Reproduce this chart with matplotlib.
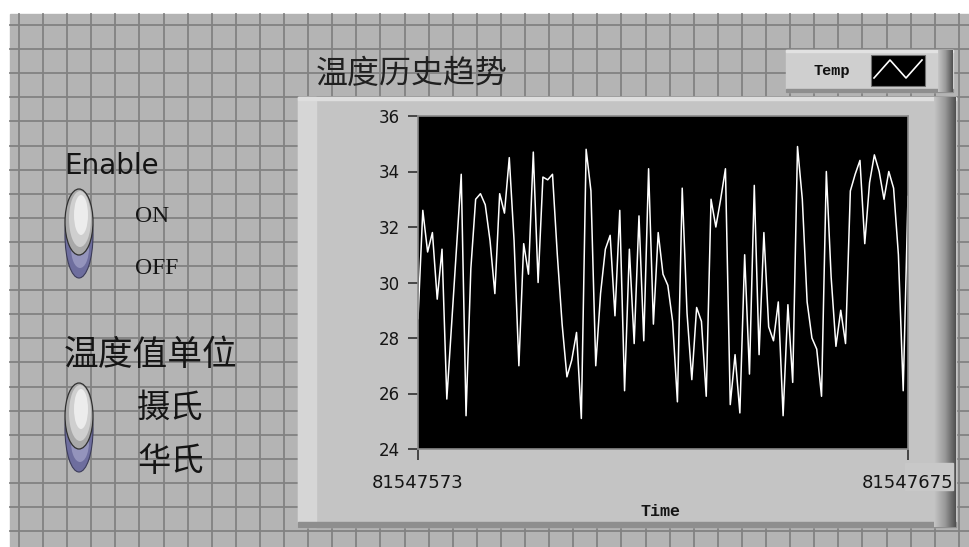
import numpy as np
import matplotlib.pyplot as plt
from matplotlib.patches import Rectangle, Ellipse
from matplotlib.colors import LinearSegmentedColormap

W, H = 970, 547

# chart data
t_start = 81547573
t_end = 81547675
temp = [28.7, 32.6, 31.1, 31.8, 29.4, 31.2, 25.8, 28.5, 31.2, 33.9,
        25.2, 30.5, 33.0, 33.2, 32.8, 31.5, 29.6, 33.2, 32.5, 34.5,
        31.5, 27.0, 31.4, 30.3, 34.7, 30.0, 33.8, 33.7, 33.9, 31.0,
        28.5, 26.6, 27.2, 28.2, 25.1, 34.8, 33.3, 27.0, 29.6, 31.2,
        31.7, 28.8, 32.6, 26.1, 31.2, 27.8, 32.4, 27.9, 34.1, 28.5,
        31.8, 30.3, 29.9, 28.6, 25.7, 33.4, 28.9, 26.5, 29.1, 28.6,
        25.9, 33.0, 32.0, 33.0, 34.1, 25.6, 27.4, 25.3, 31.0, 26.7,
        33.5, 27.4, 31.8, 28.4, 27.9, 29.3, 25.2, 29.2, 26.4, 34.9,
        33.0, 29.3, 28.0, 27.6, 25.9, 34.0, 30.2, 27.7, 29.0, 27.8,
        33.3, 33.9, 34.4, 31.4, 33.6, 34.6, 34.0, 33.0, 34.0, 33.4,
        31.0, 26.1, 33.1]
time = np.arange(t_start, t_end + 1)
y_ticks = [24, 26, 28, 30, 32, 34, 36]

title = '温度历史趋势'
unit_label = '温度值单位'
unit_opts = ['摄氏', '华氏']
enable_opts = ['ON', 'OFF']

CJK = ['Noto Sans CJK SC', 'DejaVu Sans']

fig = plt.figure(figsize=(W / 100, H / 100), dpi=100)
fig.patch.set_facecolor('white')

# --- front panel background (pixel coordinates) ---
bg = fig.add_axes([0, 0, 1, 1])
bg.axis('off')
bg.add_patch(Rectangle((10, 14), W - 10, H - 14, color='#b4b4b4', zorder=0))
for gx in np.arange(19, W, 24.1):
    bg.plot([gx, gx], [14, H], color='#828282', lw=1.3, zorder=1)
for gy in np.arange(25, H, 24.1):
    bg.plot([10, W], [gy, gy], color='#828282', lw=1.3, zorder=1)

# chart frame with bevel
bg.add_patch(Rectangle((298, 97), 658, 430, color='#c4c4c4', zorder=2))
bg.add_patch(Rectangle((298, 97), 18, 430, color='#d6d6d6', zorder=2))
bg.add_patch(Rectangle((298, 97), 658, 3, color='#dedede', zorder=2))
bg.add_patch(Rectangle((298, 522), 658, 5, color='#8e8e8e', zorder=2))
shade = LinearSegmentedColormap.from_list('shade', ['#c4c4c4', '#9a9a9a', '#505050'])
bg.imshow(np.linspace(0, 1, 40)[None, :], extent=(934, 956, 527, 97),
          cmap=shade, aspect='auto', zorder=3)
# light patch behind the right time label
bg.add_patch(Rectangle((905, 463), 48, 27, color='#c8c8c8', zorder=4))

# legend box
lg_x0 = 786
bg.add_patch(Rectangle((lg_x0, 50), 953 - lg_x0, 42, color='#cfcfcf', zorder=2))
bg.add_patch(Rectangle((lg_x0, 50), 953 - lg_x0, 2, color='#e2e2e2', zorder=2))
bg.add_patch(Rectangle((lg_x0, 89), 953 - lg_x0, 3, color='#8e8e8e', zorder=2))
bg.imshow(np.linspace(0, 1, 40)[None, :], extent=(938, 953, 92, 50),
          cmap=shade, aspect='auto', zorder=3)
bg.add_patch(Rectangle((871, 55), 54, 31, facecolor='black', edgecolor='#707070',
                       lw=0.8, zorder=4))
bg.plot([874, 890, 906, 922], [78, 60, 78, 60], color='white', lw=1.2, zorder=5)
bg.text(832, 71, 'Temp', fontsize=11, family='Liberation Mono', weight='bold',
        ha='center', va='center', color='#111111', zorder=5)

# toggle switches
def toggle(cy):
    bg.add_patch(Ellipse((79, cy + 13), 28, 86, facecolor='#6e6e9e',
                         edgecolor='#3c3c5a', lw=0.8, zorder=5))
    bg.add_patch(Ellipse((80, cy + 26), 18, 40, facecolor='#9494bc', lw=0, zorder=5))
    bg.add_patch(Ellipse((79, cy), 28, 66, facecolor='#a9a9a9',
                         edgecolor='#303030', lw=0.9, zorder=6))
    bg.add_patch(Ellipse((80, cy - 3), 22, 56, facecolor='#cfcfcf', lw=0, zorder=6))
    bg.add_patch(Ellipse((81, cy - 7), 14, 40, facecolor='#ececec', lw=0, zorder=6))

toggle(222)
toggle(416)

txt = '#151515'
bg.text(64, 166, 'Enable', fontsize=20, family='DejaVu Sans', ha='left',
        va='center', color=txt, zorder=7)
bg.text(135, 216, enable_opts[0], fontsize=17, family='Liberation Serif',
        ha='left', va='center', color=txt, zorder=7)
bg.text(135, 268, enable_opts[1], fontsize=17, family='Liberation Serif',
        ha='left', va='center', color=txt, zorder=7)
bg.text(64, 355, unit_label, fontsize=25, family=CJK, ha='left', va='center',
        color=txt, zorder=7)
bg.text(137, 408, unit_opts[0], fontsize=24, family=CJK, ha='left', va='center',
        color=txt, zorder=7)
bg.text(137, 461, unit_opts[1], fontsize=24, family=CJK, ha='left', va='center',
        color=txt, zorder=7)
bg.text(316, 74, title, fontsize=23, family=CJK, ha='left', va='center',
        color='#202020', zorder=7)
bg.text(661, 512, 'Time', fontsize=12, family='Liberation Mono', weight='bold',
        ha='center', va='center', color=txt, zorder=7)

bg.set_xlim(0, W)
bg.set_ylim(H, 0)

# --- waveform chart ---
px_l, px_r, px_t, px_b = 418, 908, 116, 449
ax = fig.add_axes([px_l / W, (H - px_b) / H, (px_r - px_l) / W, (px_b - px_t) / H])
ax.set_facecolor('black')
ax.plot(time, temp, color='white', lw=1.1)
ax.set_xlim(t_start, t_end)
ax.set_ylim(24, 36)
ax.set_xticks([t_start, t_end])
ax.set_xticklabels([str(t_start), str(t_end)])
ax.set_yticks(y_ticks)
ax.tick_params(axis='y', direction='out', length=7, width=1.2, color='#303030',
               pad=6, labelsize=12, labelcolor=txt)
ax.tick_params(axis='x', direction='out', length=8, width=1.2, color='#303030',
               pad=10, labelsize=13, labelcolor=txt)
for s in ax.spines.values():
    s.set_color('#8a8a8a')
    s.set_linewidth(1.2)

fig.savefig('out.png', dpi=100)
